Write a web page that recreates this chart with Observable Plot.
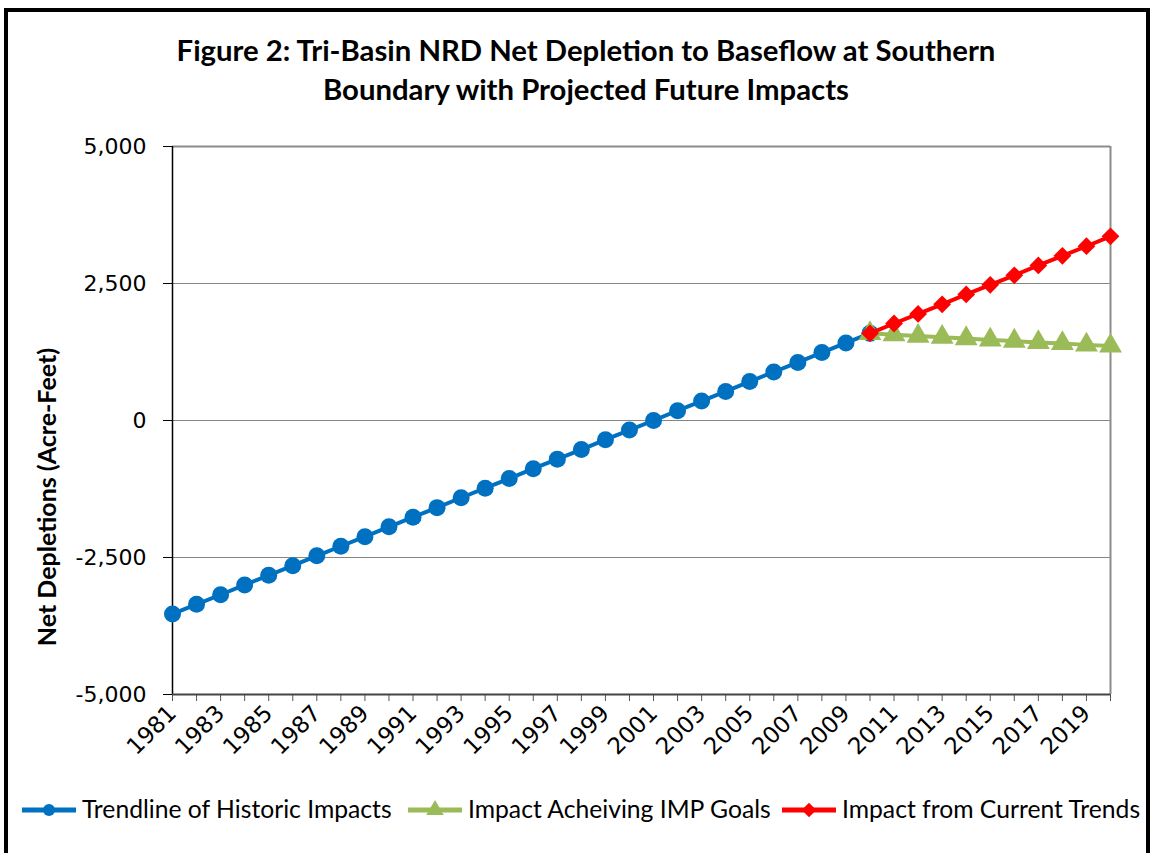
<!DOCTYPE html>
<html><head><meta charset="utf-8">
<script src="https://cdn.jsdelivr.net/npm/d3@7"></script>
<script src="https://cdn.jsdelivr.net/npm/@observablehq/plot@0.6"></script>
<style>
body{margin:0;background:#fff;}
#wrap{position:relative;width:1150px;height:853px;overflow:hidden;background:#fff;}
#frame{position:absolute;left:4px;top:8px;width:1146px;height:900px;border:4px solid #000;box-sizing:border-box;}
#title{position:absolute;left:0;top:30px;width:1172px;text-align:center;font-family:Lato,sans-serif;font-weight:bold;font-size:29.3px;line-height:39px;color:#000;}
#chart{position:absolute;left:0;top:130px;}
#ylab{position:absolute;left:46px;top:497px;transform:translate(-50%,-50%) rotate(-90deg);font-family:Lato,sans-serif;font-weight:bold;font-size:25px;white-space:nowrap;}
</style></head>
<body><div id="wrap"><div id="frame"></div>
<div id="title">Figure 2: Tri-Basin NRD Net Depletion to Baseflow at Southern<br>Boundary with Projected Future Impacts</div>
<div id="chart"></div>
<div id="ylab">Net Depletions (Acre-Feet)</div>
<svg id="legsvg" width="1150" height="40" style="position:absolute;left:0;top:790px;"></svg>
</div>
<script>
const histYears = [1981,1982,1983,1984,1985,1986,1987,1988,1989,1990,1991,1992,1993,1994,1995,1996,1997,1998,1999,2000,2001,2002,2003,2004,2005,2006,2007,2008,2009,2010];
const histValues = [-3530,-3355,-3180,-3000,-2825,-2650,-2470,-2295,-2120,-1940,-1765,-1590,-1410,-1235,-1060,-880,-705,-530,-350,-175,0,180,355,530,710,885,1060,1240,1415,1590];
const projYears = [2010,2011,2012,2013,2014,2015,2016,2017,2018,2019,2020];
const goalValues = [1590,1565,1540,1520,1495,1470,1450,1425,1405,1380,1360];
const trendValues = [1590,1770,1945,2120,2300,2475,2650,2830,3005,3180,3360];
const yTicks = [-5000,-2500,0,2500,5000];
const xTicks = d3.range(1981,2021);
const seriesNames = ["Trendline of Historic Impacts","Impact Acheiving IMP Goals","Impact from Current Trends"];
const colors = ["#0070C0","#9BBB59","#FF0000"];
const symbols = ["circle","triangle","diamond2"];

const hist = histYears.map((x,i)=>({x, y:histValues[i]}));
const goal = projYears.map((x,i)=>({x, y:goalValues[i]}));
const trend = projYears.map((x,i)=>({x, y:trendValues[i]}));

const fmt = d => d.toLocaleString("en-US");

const chart = Plot.plot({
  width:1150, height:660,
  marginLeft:172, marginRight:40, marginTop:16, marginBottom:96,
  x:{domain:[1981,2020]},
  y:{domain:[-5000,5000]},
  style:{fontFamily:"DejaVu Sans", background:"transparent"},
  marks:[
    Plot.ruleY([-2500,0,2500],{stroke:"#868686",strokeWidth:1}),
    Plot.ruleY([5000],{stroke:"#8c8c8c",strokeWidth:2}),
    Plot.ruleX([2020],{stroke:"#8c8c8c",strokeWidth:2}),
    Plot.axisY({ticks:yTicks, tickFormat:fmt, tickSize:9, tickPadding:17, fontSize:22, label:null, stroke:"#000", color:"#000"}),
    Plot.axisX({ticks:xTicks, tickFormat:d=> d%2===1 ? String(d) : "", tickSize:7, tickRotate:-45, tickPadding:8, fontSize:23, label:null, stroke:"#555", color:"#000"}),
    Plot.ruleX([1981],{stroke:"#000",strokeWidth:1.5}),
    Plot.ruleY([-5000],{stroke:"#444",strokeWidth:2}),
    Plot.line(hist,{x:"x",y:"y",stroke:colors[0],strokeWidth:4}),
    Plot.dot(hist,{x:"x",y:"y",r:8.5,fill:colors[0],symbol:"circle"}),
    Plot.line(goal,{x:"x",y:"y",stroke:colors[1],strokeWidth:4}),
    Plot.dot(goal,{x:"x",y:"y",r:8.5,fill:colors[1],symbol:"triangle"}),
    Plot.line(trend,{x:"x",y:"y",stroke:colors[2],strokeWidth:4}),
    Plot.dot(trend,{x:"x",y:"y",r:8,fill:colors[2],symbol:"diamond2"})
  ]
});
document.getElementById("chart").appendChild(chart);

// legend
const leg = d3.select("#legsvg");
const lx = [22,408,782];
const symMap = {circle:d3.symbolCircle, triangle:d3.symbolTriangle, diamond2:d3.symbolDiamond2};
const symSize = [Math.PI*6*6, Math.PI*6.5*6.5, Math.PI*6.5*6.5];
seriesNames.forEach((name,i)=>{
  const g = leg.append("g");
  g.append("line").attr("x1",lx[i]).attr("x2",lx[i]+54).attr("y1",20).attr("y2",20).attr("stroke",colors[i]).attr("stroke-width",5);
  g.append("path").attr("d",d3.symbol(symMap[symbols[i]],symSize[i])()).attr("transform",`translate(${lx[i]+27},20)`).attr("fill",colors[i]);
  g.append("text").attr("x",lx[i]+60).attr("y",28).attr("font-family","Lato, sans-serif").attr("font-size",24.7).text(name);
});
</script>
</body></html>
